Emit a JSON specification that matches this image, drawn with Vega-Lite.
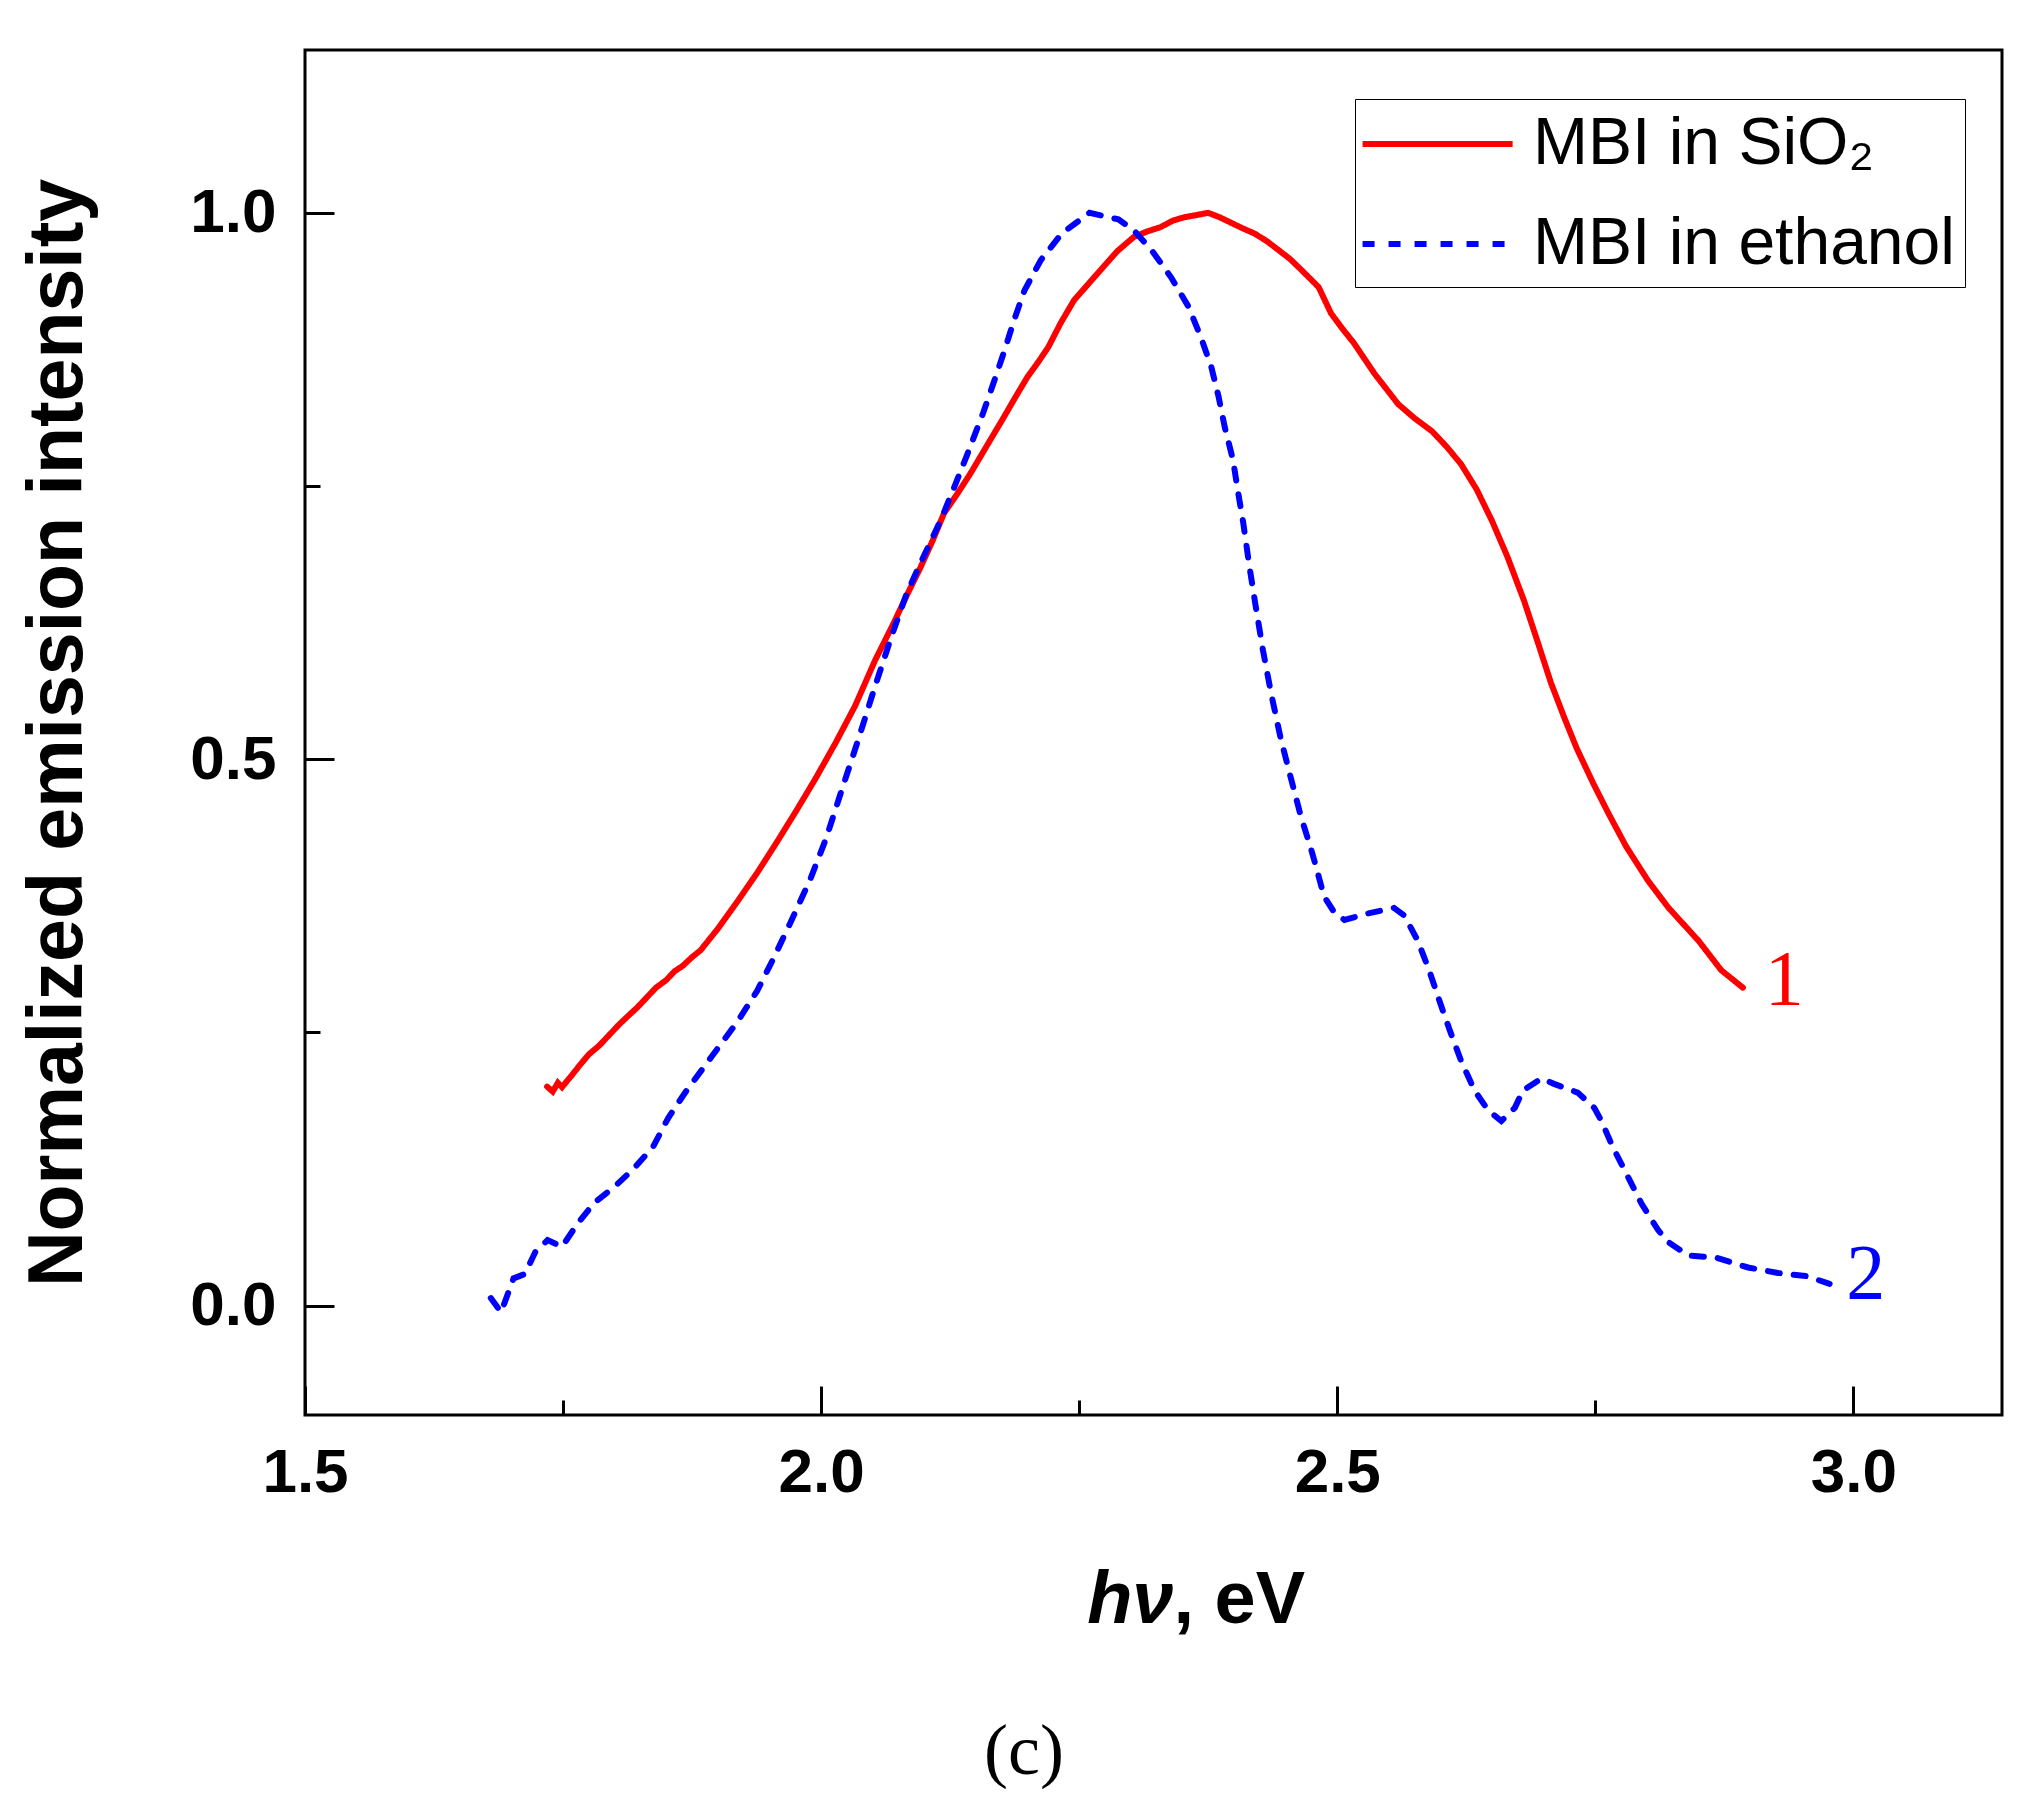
{
  "$schema": "https://vega.github.io/schema/vega-lite/v6.json",
  "description": "Normalized emission spectra of MBI in SiO2 and in ethanol.",
  "width": 1697,
  "height": 1365,
  "autosize": {"type": "none"},
  "padding": {"left": 305, "top": 50, "right": 26, "bottom": 387},
  "background": "white",
  "config": {
    "view": {"stroke": "black", "strokeWidth": 3},
    "axis": {
      "domain": false,
      "grid": false,
      "labelFont": "Liberation Sans",
      "labelFontWeight": "bold",
      "labelFontSize": 62,
      "labelColor": "black",
      "titleFont": "Liberation Sans",
      "titleFontWeight": "bold",
      "titleFontSize": 74,
      "titleColor": "black",
      "tickColor": "black",
      "tickWidth": 3
    },
    "legend": {
      "title": null,
      "strokeColor": "black",
      "fillColor": "white",
      "padding": 10,
      "labelFont": "Liberation Sans",
      "labelFontSize": 66,
      "labelColor": "black",
      "labelLimit": 0,
      "labelOffset": 98,
      "rowPadding": 32,
      "symbolType": "M-1.17,0H3.52",
      "symbolSize": 4096,
      "symbolStrokeWidth": 6
    }
  },
  "title": {
    "text": "(c)",
    "orient": "bottom",
    "anchor": "middle",
    "frame": "bounds",
    "font": "Liberation Serif",
    "fontSize": 72,
    "fontWeight": "normal",
    "color": "black",
    "offset": 80,
    "dx": 13
  },
  "datasets": {
    "spectra": [
      {"series": "MBI in SiO₂", "x": 1.7345, "y": 0.2005},
      {"series": "MBI in SiO₂", "x": 1.740, "y": 0.196},
      {"series": "MBI in SiO₂", "x": 1.745, "y": 0.204},
      {"series": "MBI in SiO₂", "x": 1.749, "y": 0.200},
      {"series": "MBI in SiO₂", "x": 1.759, "y": 0.2115},
      {"series": "MBI in SiO₂", "x": 1.767, "y": 0.221},
      {"series": "MBI in SiO₂", "x": 1.775, "y": 0.230},
      {"series": "MBI in SiO₂", "x": 1.785, "y": 0.238},
      {"series": "MBI in SiO₂", "x": 1.795, "y": 0.248},
      {"series": "MBI in SiO₂", "x": 1.805, "y": 0.258},
      {"series": "MBI in SiO₂", "x": 1.814, "y": 0.266},
      {"series": "MBI in SiO₂", "x": 1.822, "y": 0.273},
      {"series": "MBI in SiO₂", "x": 1.831, "y": 0.282},
      {"series": "MBI in SiO₂", "x": 1.840, "y": 0.291},
      {"series": "MBI in SiO₂", "x": 1.850, "y": 0.298},
      {"series": "MBI in SiO₂", "x": 1.858, "y": 0.306},
      {"series": "MBI in SiO₂", "x": 1.866, "y": 0.311},
      {"series": "MBI in SiO₂", "x": 1.875, "y": 0.319},
      {"series": "MBI in SiO₂", "x": 1.883, "y": 0.325},
      {"series": "MBI in SiO₂", "x": 1.900, "y": 0.345},
      {"series": "MBI in SiO₂", "x": 1.919, "y": 0.370},
      {"series": "MBI in SiO₂", "x": 1.938, "y": 0.396},
      {"series": "MBI in SiO₂", "x": 1.957, "y": 0.424},
      {"series": "MBI in SiO₂", "x": 1.976, "y": 0.453},
      {"series": "MBI in SiO₂", "x": 1.995, "y": 0.483},
      {"series": "MBI in SiO₂", "x": 2.014, "y": 0.515},
      {"series": "MBI in SiO₂", "x": 2.033, "y": 0.549},
      {"series": "MBI in SiO₂", "x": 2.052, "y": 0.590},
      {"series": "MBI in SiO₂", "x": 2.071, "y": 0.626},
      {"series": "MBI in SiO₂", "x": 2.084, "y": 0.652},
      {"series": "MBI in SiO₂", "x": 2.096, "y": 0.675},
      {"series": "MBI in SiO₂", "x": 2.108, "y": 0.700},
      {"series": "MBI in SiO₂", "x": 2.119, "y": 0.725},
      {"series": "MBI in SiO₂", "x": 2.132, "y": 0.743},
      {"series": "MBI in SiO₂", "x": 2.145, "y": 0.762},
      {"series": "MBI in SiO₂", "x": 2.160, "y": 0.786},
      {"series": "MBI in SiO₂", "x": 2.177, "y": 0.813},
      {"series": "MBI in SiO₂", "x": 2.188, "y": 0.831},
      {"series": "MBI in SiO₂", "x": 2.200, "y": 0.850},
      {"series": "MBI in SiO₂", "x": 2.210, "y": 0.863},
      {"series": "MBI in SiO₂", "x": 2.220, "y": 0.877},
      {"series": "MBI in SiO₂", "x": 2.232, "y": 0.899},
      {"series": "MBI in SiO₂", "x": 2.245, "y": 0.920},
      {"series": "MBI in SiO₂", "x": 2.258, "y": 0.934},
      {"series": "MBI in SiO₂", "x": 2.271, "y": 0.948},
      {"series": "MBI in SiO₂", "x": 2.287, "y": 0.965},
      {"series": "MBI in SiO₂", "x": 2.303, "y": 0.978},
      {"series": "MBI in SiO₂", "x": 2.316, "y": 0.983},
      {"series": "MBI in SiO₂", "x": 2.329, "y": 0.987},
      {"series": "MBI in SiO₂", "x": 2.341, "y": 0.993},
      {"series": "MBI in SiO₂", "x": 2.352, "y": 0.996},
      {"series": "MBI in SiO₂", "x": 2.364, "y": 0.998},
      {"series": "MBI in SiO₂", "x": 2.375, "y": 1.000},
      {"series": "MBI in SiO₂", "x": 2.386, "y": 0.996},
      {"series": "MBI in SiO₂", "x": 2.397, "y": 0.991},
      {"series": "MBI in SiO₂", "x": 2.408, "y": 0.986},
      {"series": "MBI in SiO₂", "x": 2.420, "y": 0.981},
      {"series": "MBI in SiO₂", "x": 2.432, "y": 0.974},
      {"series": "MBI in SiO₂", "x": 2.443, "y": 0.966},
      {"series": "MBI in SiO₂", "x": 2.454, "y": 0.958},
      {"series": "MBI in SiO₂", "x": 2.465, "y": 0.948},
      {"series": "MBI in SiO₂", "x": 2.482, "y": 0.932},
      {"series": "MBI in SiO₂", "x": 2.494, "y": 0.908},
      {"series": "MBI in SiO₂", "x": 2.505, "y": 0.894},
      {"series": "MBI in SiO₂", "x": 2.516, "y": 0.881},
      {"series": "MBI in SiO₂", "x": 2.536, "y": 0.853},
      {"series": "MBI in SiO₂", "x": 2.559, "y": 0.825},
      {"series": "MBI in SiO₂", "x": 2.575, "y": 0.812},
      {"series": "MBI in SiO₂", "x": 2.592, "y": 0.800},
      {"series": "MBI in SiO₂", "x": 2.606, "y": 0.786},
      {"series": "MBI in SiO₂", "x": 2.620, "y": 0.770},
      {"series": "MBI in SiO₂", "x": 2.635, "y": 0.747},
      {"series": "MBI in SiO₂", "x": 2.650, "y": 0.718},
      {"series": "MBI in SiO₂", "x": 2.665, "y": 0.685},
      {"series": "MBI in SiO₂", "x": 2.681, "y": 0.645},
      {"series": "MBI in SiO₂", "x": 2.695, "y": 0.605},
      {"series": "MBI in SiO₂", "x": 2.707, "y": 0.570},
      {"series": "MBI in SiO₂", "x": 2.720, "y": 0.538},
      {"series": "MBI in SiO₂", "x": 2.732, "y": 0.510},
      {"series": "MBI in SiO₂", "x": 2.748, "y": 0.478},
      {"series": "MBI in SiO₂", "x": 2.763, "y": 0.450},
      {"series": "MBI in SiO₂", "x": 2.780, "y": 0.420},
      {"series": "MBI in SiO₂", "x": 2.801, "y": 0.389},
      {"series": "MBI in SiO₂", "x": 2.821, "y": 0.364},
      {"series": "MBI in SiO₂", "x": 2.850, "y": 0.334},
      {"series": "MBI in SiO₂", "x": 2.872, "y": 0.307},
      {"series": "MBI in SiO₂", "x": 2.893, "y": 0.291},
      {"series": "MBI in ethanol", "x": 1.680, "y": 0.007},
      {"series": "MBI in ethanol", "x": 1.690, "y": -0.006},
      {"series": "MBI in ethanol", "x": 1.702, "y": 0.025},
      {"series": "MBI in ethanol", "x": 1.713, "y": 0.029},
      {"series": "MBI in ethanol", "x": 1.723, "y": 0.049},
      {"series": "MBI in ethanol", "x": 1.735, "y": 0.060},
      {"series": "MBI in ethanol", "x": 1.749, "y": 0.054},
      {"series": "MBI in ethanol", "x": 1.764, "y": 0.075},
      {"series": "MBI in ethanol", "x": 1.780, "y": 0.094},
      {"series": "MBI in ethanol", "x": 1.800, "y": 0.109},
      {"series": "MBI in ethanol", "x": 1.818, "y": 0.125},
      {"series": "MBI in ethanol", "x": 1.837, "y": 0.145},
      {"series": "MBI in ethanol", "x": 1.852, "y": 0.172},
      {"series": "MBI in ethanol", "x": 1.869, "y": 0.196},
      {"series": "MBI in ethanol", "x": 1.894, "y": 0.228},
      {"series": "MBI in ethanol", "x": 1.919, "y": 0.260},
      {"series": "MBI in ethanol", "x": 1.938, "y": 0.288},
      {"series": "MBI in ethanol", "x": 1.954, "y": 0.318},
      {"series": "MBI in ethanol", "x": 1.970, "y": 0.350},
      {"series": "MBI in ethanol", "x": 1.989, "y": 0.389},
      {"series": "MBI in ethanol", "x": 2.005, "y": 0.428},
      {"series": "MBI in ethanol", "x": 2.020, "y": 0.472},
      {"series": "MBI in ethanol", "x": 2.036, "y": 0.518},
      {"series": "MBI in ethanol", "x": 2.052, "y": 0.566},
      {"series": "MBI in ethanol", "x": 2.068, "y": 0.612},
      {"series": "MBI in ethanol", "x": 2.083, "y": 0.652},
      {"series": "MBI in ethanol", "x": 2.097, "y": 0.681},
      {"series": "MBI in ethanol", "x": 2.116, "y": 0.719},
      {"series": "MBI in ethanol", "x": 2.129, "y": 0.749},
      {"series": "MBI in ethanol", "x": 2.142, "y": 0.780},
      {"series": "MBI in ethanol", "x": 2.157, "y": 0.817},
      {"series": "MBI in ethanol", "x": 2.168, "y": 0.847},
      {"series": "MBI in ethanol", "x": 2.178, "y": 0.875},
      {"series": "MBI in ethanol", "x": 2.187, "y": 0.902},
      {"series": "MBI in ethanol", "x": 2.197, "y": 0.929},
      {"series": "MBI in ethanol", "x": 2.213, "y": 0.957},
      {"series": "MBI in ethanol", "x": 2.233, "y": 0.981},
      {"series": "MBI in ethanol", "x": 2.260, "y": 1.000},
      {"series": "MBI in ethanol", "x": 2.288, "y": 0.994},
      {"series": "MBI in ethanol", "x": 2.303, "y": 0.984},
      {"series": "MBI in ethanol", "x": 2.320, "y": 0.966},
      {"series": "MBI in ethanol", "x": 2.339, "y": 0.941},
      {"series": "MBI in ethanol", "x": 2.356, "y": 0.914},
      {"series": "MBI in ethanol", "x": 2.368, "y": 0.886},
      {"series": "MBI in ethanol", "x": 2.378, "y": 0.859},
      {"series": "MBI in ethanol", "x": 2.385, "y": 0.832},
      {"series": "MBI in ethanol", "x": 2.391, "y": 0.804},
      {"series": "MBI in ethanol", "x": 2.399, "y": 0.774},
      {"series": "MBI in ethanol", "x": 2.404, "y": 0.744},
      {"series": "MBI in ethanol", "x": 2.409, "y": 0.716},
      {"series": "MBI in ethanol", "x": 2.415, "y": 0.676},
      {"series": "MBI in ethanol", "x": 2.421, "y": 0.640},
      {"series": "MBI in ethanol", "x": 2.428, "y": 0.600},
      {"series": "MBI in ethanol", "x": 2.436, "y": 0.560},
      {"series": "MBI in ethanol", "x": 2.445, "y": 0.520},
      {"series": "MBI in ethanol", "x": 2.455, "y": 0.483},
      {"series": "MBI in ethanol", "x": 2.465, "y": 0.447},
      {"series": "MBI in ethanol", "x": 2.474, "y": 0.420},
      {"series": "MBI in ethanol", "x": 2.480, "y": 0.400},
      {"series": "MBI in ethanol", "x": 2.487, "y": 0.375},
      {"series": "MBI in ethanol", "x": 2.497, "y": 0.360},
      {"series": "MBI in ethanol", "x": 2.507, "y": 0.353},
      {"series": "MBI in ethanol", "x": 2.530, "y": 0.359},
      {"series": "MBI in ethanol", "x": 2.555, "y": 0.364},
      {"series": "MBI in ethanol", "x": 2.565, "y": 0.357},
      {"series": "MBI in ethanol", "x": 2.578, "y": 0.334},
      {"series": "MBI in ethanol", "x": 2.589, "y": 0.307},
      {"series": "MBI in ethanol", "x": 2.599, "y": 0.279},
      {"series": "MBI in ethanol", "x": 2.609, "y": 0.252},
      {"series": "MBI in ethanol", "x": 2.620, "y": 0.224},
      {"series": "MBI in ethanol", "x": 2.633, "y": 0.197},
      {"series": "MBI in ethanol", "x": 2.646, "y": 0.179},
      {"series": "MBI in ethanol", "x": 2.659, "y": 0.169},
      {"series": "MBI in ethanol", "x": 2.672, "y": 0.181},
      {"series": "MBI in ethanol", "x": 2.680, "y": 0.197},
      {"series": "MBI in ethanol", "x": 2.698, "y": 0.208},
      {"series": "MBI in ethanol", "x": 2.710, "y": 0.203},
      {"series": "MBI in ethanol", "x": 2.733, "y": 0.195},
      {"series": "MBI in ethanol", "x": 2.749, "y": 0.181},
      {"series": "MBI in ethanol", "x": 2.756, "y": 0.169},
      {"series": "MBI in ethanol", "x": 2.767, "y": 0.145},
      {"series": "MBI in ethanol", "x": 2.780, "y": 0.121},
      {"series": "MBI in ethanol", "x": 2.795, "y": 0.093},
      {"series": "MBI in ethanol", "x": 2.811, "y": 0.069},
      {"series": "MBI in ethanol", "x": 2.821, "y": 0.058},
      {"series": "MBI in ethanol", "x": 2.840, "y": 0.046},
      {"series": "MBI in ethanol", "x": 2.867, "y": 0.044},
      {"series": "MBI in ethanol", "x": 2.898, "y": 0.035},
      {"series": "MBI in ethanol", "x": 2.927, "y": 0.030},
      {"series": "MBI in ethanol", "x": 2.955, "y": 0.027},
      {"series": "MBI in ethanol", "x": 2.977, "y": 0.020}
    ],
    "curveLabels": [
      {"label": "1", "x": 2.933, "y": 0.276},
      {"label": "2", "x": 3.012, "y": 0.007}
    ]
  },
  "resolve": {"axis": {"x": "independent"}},
  "layer": [
    {
      "data": {"name": "spectra"},
      "mark": {"type": "line", "strokeWidth": 6, "strokeCap": "round", "clip": true},
      "encoding": {
        "x": {
          "field": "x",
          "type": "quantitative",
          "scale": {"domain": [1.5, 3.144], "nice": false, "zero": false},
          "axis": {
            "orient": "bottom",
            "values": [1.5, 1.75, 2.0, 2.25, 2.5, 2.75, 3.0],
            "labelExpr": "abs(datum.value * 2 - round(datum.value * 2)) > 0.01 ? '' : format(datum.value, '.1f')",
            "tickSize": {"condition": {"test": "abs(datum.value * 2 - round(datum.value * 2)) > 0.01", "value": -15}, "value": -29},
            "labelPadding": 56,
            "labelFlush": false,
            "title": "hν",
            "titleFontStyle": "italic",
            "titleAlign": "right",
            "titleBaseline": "alphabetic",
            "titleAnchor": null,
            "titleX": 868,
            "titleY": 207
          }
        },
        "y": {
          "field": "y",
          "type": "quantitative",
          "scale": {"domain": [-0.1, 1.149], "nice": false, "zero": false},
          "axis": {
            "values": [0, 0.25, 0.5, 0.75, 1.0],
            "labelExpr": "abs(datum.value * 2 - round(datum.value * 2)) > 0.01 ? '' : format(datum.value, '.1f')",
            "tickSize": {"condition": {"test": "abs(datum.value * 2 - round(datum.value * 2)) > 0.01", "value": -15}, "value": -29},
            "labelPadding": 58,
            "title": "Normalized emission intensity",
            "titleFontSize": 77,
            "titlePadding": 92
          }
        },
        "color": {
          "field": "series",
          "type": "nominal",
          "scale": {"domain": ["MBI in SiO₂", "MBI in ethanol"], "range": ["#ff0000", "#0000ff"]},
          "legend": {"orient": "none", "legendX": 1050, "legendY": 49}
        },
        "strokeDash": {
          "field": "series",
          "type": "nominal",
          "scale": {"domain": ["MBI in SiO₂", "MBI in ethanol"], "range": [[1, 0], [12, 14]]},
          "legend": {"orient": "none", "legendX": 1050, "legendY": 49}
        }
      }
    },
    {
      "data": {"name": "curveLabels"},
      "mark": {"type": "text", "font": "Liberation Serif", "fontSize": 78, "align": "center", "baseline": "alphabetic"},
      "encoding": {
        "x": {
          "field": "x",
          "type": "quantitative",
          "scale": {"domain": [1.5, 3.144], "nice": false, "zero": false},
          "axis": {
            "orient": "bottom",
            "labels": false,
            "ticks": false,
            "domain": false,
            "title": ", eV",
            "titleAlign": "left",
            "titleBaseline": "alphabetic",
            "titleAnchor": null,
            "titleX": 868,
            "titleY": 207
          }
        },
        "y": {"field": "y", "type": "quantitative"},
        "text": {"field": "label"},
        "color": {"condition": {"test": "datum.label == '1'", "value": "#ff0000"}, "value": "#0000ff"}
      }
    }
  ]
}
